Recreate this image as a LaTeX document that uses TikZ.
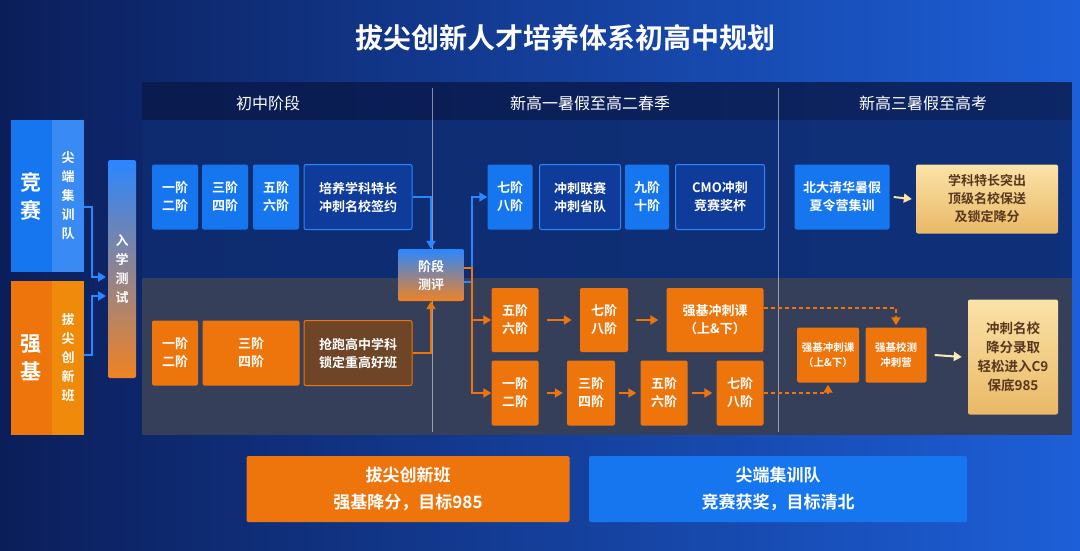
\documentclass[tikz,border=0pt]{standalone}
\usepackage{fontspec}
\setmainfont{Noto Sans CJK SC}
\newfontfamily\cjkb{Noto Sans CJK SC Bold}
\usetikzlibrary{arrows.meta}
\definecolor{bgL}{HTML}{0B1E5A}
\definecolor{bgR}{HTML}{1D5FD8}
\definecolor{bblue}{HTML}{1676F0}
\definecolor{dblue}{HTML}{0F3C9A}
\definecolor{bord}{HTML}{2B86FF}
\definecolor{org}{HTML}{EE750C}
\definecolor{brn}{HTML}{6E4527}
\definecolor{gold1}{HTML}{FBE3A8}
\definecolor{gold2}{HTML}{E9B866}
\definecolor{upper}{HTML}{0E2C70}
\definecolor{lower}{HTML}{363F5A}
\tikzset{
 x=1pt,y=-1pt,
 bx/.style={rounded corners=2pt,text=white,align=center,font=\cjkb\fontsize{13}{18}\selectfont,inner sep=0pt},
 bb/.style={bx,fill=bblue},
 db/.style={bx,fill=dblue,draw=bord,line width=1pt},
 ob/.style={bx,fill=org},
 gb/.style={bx,top color=gold1,bottom color=gold2,text=brn!80!black},
 ar/.style={-{Triangle[length=8pt,width=9pt]},line width=2pt},
 bar/.style={ar,draw=bord},
 oar/.style={ar,draw=org},
 dar/.style={ar,draw=org,dash pattern=on 4pt off 3pt}
}
\begin{document}
\begin{tikzpicture}
\useasboundingbox (0,0) rectangle (1080,550);
\shade[left color=bgL,right color=bgR] (0,0) rectangle (1080,550);
\node[text=white,font=\cjkb\fontsize{28}{30}\selectfont] (title) at (565,38) {拔尖创新人才培养体系初高中规划};
% panels
\fill[bgL!80!black,opacity=0.8] (142,82) rectangle (1072,120);
\fill[upper,opacity=0.9] (142,120) rectangle (1072,278);
\fill[lower] (142,278) rectangle (1072,435);
\draw[white!40,line width=0.5pt,opacity=0.5] (432,88) -- (432,432) (778,88) -- (778,432);
\node[text=white,font=\fontsize{16}{18}\selectfont] (h1) at (268,103) {初中阶段};
\node[text=white,font=\fontsize{16}{18}\selectfont] (h2) at (590,103) {新高一暑假至高二春季};
\node[text=white,font=\fontsize{16}{18}\selectfont] (h3) at (923,103) {新高三暑假至高考};
% left
\fill[bblue] (11,120) rectangle (84,272);
\fill[bblue!85!white] (52,120) rectangle (84,272);
\fill[org] (11,281) rectangle (84,435);
\fill[org!85!yellow] (52,281) rectangle (84,435);
\node[text=white,font=\cjkb\fontsize{21}{28}\selectfont,align=center] (js) at (31,196) {竞\\赛};
\node[text=white,font=\cjkb\fontsize{21}{28}\selectfont,align=center] (qj) at (31,358) {强\\基};
\node[text=white,font=\cjkb\fontsize{13}{19}\selectfont,align=center] (jd) at (68,196) {尖\\端\\集\\训\\队};
\node[text=white,font=\cjkb\fontsize{13}{19}\selectfont,align=center] (bj) at (68,358) {拔\\尖\\创\\新\\班};
\shade[top color=bord,bottom color=org!90!white,rounded corners=2pt] (108,160) rectangle (136,378);
\node[text=white,font=\cjkb\fontsize{13}{19}\selectfont,align=center] (rx) at (122,269) {入\\学\\测\\试};
\coordinate (rxa) at (106,277); \coordinate (rxb) at (106,296);
\draw[bar] (84,207) -| (92,277) -- (rxa);
\draw[bar] (84,355) -| (92,296) -- (rxb);
% upper junior
\node[bb,minimum width=46,minimum height=65] (u1) at (175,197) {一阶\\二阶};
\node[bb,minimum width=46,minimum height=65] (u2) at (225,197) {三阶\\四阶};
\node[bb,minimum width=46,minimum height=65] (u3) at (276,197) {五阶\\六阶};
\node[db,minimum width=108,minimum height=65] (u4) at (358,197) {培养学科特长\\冲刺名校签约};
% lower junior
\node[ob,minimum width=46,minimum height=65] (l1) at (175,353) {一阶\\二阶};
\node[ob,minimum width=97,minimum height=65] (l2) at (251,353) {三阶\\四阶};
\node[bx,fill=brn,draw=org,line width=1pt,minimum width=108,minimum height=65] (l3) at (358,353) {抢跑高中学科\\锁定重高好班};
% eval
\shade[top color=bord,bottom color=org!90!white,rounded corners=2pt] (398,249) rectangle (464,301);
\node[bx,minimum width=66,minimum height=52] (ev) at (431,275) {阶段\\测评};
\draw[bar] (u4.east) -| (ev.north);
\draw[oar] (l3.east) -| (ev.south);
% upper senior
\node[bb,minimum width=45,minimum height=65] (s1) at (510,197) {七阶\\八阶};
\node[db,minimum width=81,minimum height=65] (s2) at (580,197) {冲刺联赛\\冲刺省队};
\node[bb,minimum width=44,minimum height=65] (s3) at (647,197) {九阶\\十阶};
\node[db,minimum width=89,minimum height=65] (s4) at (720,197) {CMO冲刺\\竞赛奖杯};
\node[bb,minimum width=95,minimum height=65] (s5) at (842,197) {北大清华暑假\\夏令营集训};
\node[gb,minimum width=142,minimum height=69] (g1) at (987,199) {学科特长突出\\顶级名校保送\\及锁定降分};
\draw[bar] ([yshift=-7]ev.east) -- ++(8,0) |- (s1.west);
\draw[ar,draw=gold1] (s5.east) ++(4,0) -- ([xshift=-4]g1.west);
% lower senior
\node[ob,minimum width=47,minimum height=64] (a1) at (515,320) {五阶\\六阶};
\node[ob,minimum width=48,minimum height=64] (a2) at (604,320) {七阶\\八阶};
\node[ob,minimum width=97,minimum height=64] (a3) at (715,320) {强基冲刺课\\（上\&下）};
\node[ob,minimum width=47,minimum height=65] (b1) at (515,393) {一阶\\二阶};
\node[ob,minimum width=48,minimum height=65] (b2) at (591,393) {三阶\\四阶};
\node[ob,minimum width=47,minimum height=65] (b3) at (664,393) {五阶\\六阶};
\node[ob,minimum width=47,minimum height=65] (b4) at (740,393) {七阶\\八阶};
\node[ob,minimum width=62,minimum height=55,font=\cjkb\fontsize{10.5}{15}\selectfont] (c1) at (828,355) {强基冲刺课\\（上\&下）};
\node[ob,minimum width=61,minimum height=55,font=\cjkb\fontsize{10.5}{15}\selectfont] (c2) at (896,355) {强基校测\\冲刺营};
\node[gb,minimum width=90,minimum height=115,font=\cjkb\fontsize{13.5}{19}\selectfont] (g2) at (1013,357) {冲刺名校\\降分录取\\轻松进入C9\\保底985};
\draw[oar] ([yshift=7]ev.east) -- ++(8,0) |- (b1.west);
\draw[oar] (472,320) -- (a1.west);
\draw[oar] ([xshift=8]a1.east) -- ([xshift=-8]a2.west);
\draw[oar] ([xshift=8]a2.east) -- ([xshift=-8]a3.west);
\draw[oar] ([xshift=8]b1.east) -- ([xshift=-4]b2.west);
\draw[oar] ([xshift=4]b2.east) -- ([xshift=-4]b3.west);
\draw[oar] ([xshift=4]b3.east) -- ([xshift=-4]b4.west);
\draw[dar,shorten >=2pt] ([yshift=12]a3.east) -| (c2.north);
\draw[dar,shorten >=2pt] (b4.east) -| (c1.south);
\draw[ar,draw=gold1!80!white] ([xshift=8]c2.east) -- ([xshift=-6]g2.west);
% bottom
\node[bx,fill=org,minimum width=323,minimum height=66,font=\cjkb\fontsize{17}{27}\selectfont] (bo) at (408,489) {拔尖创新班\\强基降分，目标985};
\node[bx,fill=bblue,minimum width=378,minimum height=66,font=\cjkb\fontsize{17}{27}\selectfont] (bl) at (778,489) {尖端集训队\\竞赛获奖，目标清北};
\end{tikzpicture}
\end{document}
